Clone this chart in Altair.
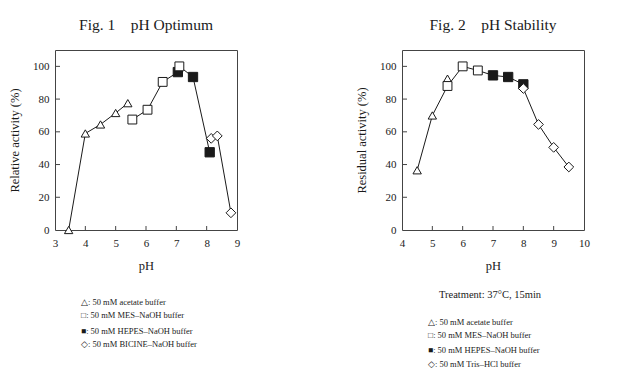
import altair as alt
import pandas as pd

FONT = "Liberation Serif"
INK = "#1a1a1a"
FRAME = "#444444"

# ---------------- Fig. 1 pH Optimum ----------------
f1_acetate_ph = [3.45, 4.0, 4.5, 5.0, 5.4]
f1_acetate_act = [0, 59, 64.5, 71.5, 77.5]
f1_mes_ph = [5.55, 6.05, 6.55, 7.1]
f1_mes_act = [67.5, 73.5, 90.5, 100]
f1_hepes_ph = [7.05, 7.55, 8.1]
f1_hepes_act = [96.5, 93.5, 47.5]
f1_bicine_ph = [8.15, 8.35, 8.8]
f1_bicine_act = [56, 57.5, 10.5]
f1_xticks = [3, 4, 5, 6, 7, 8, 9]
f1_legend = [
    "\u25b3: 50 mM acetate buffer",
    "\u25a1: 50 mM MES\u2013NaOH buffer",
    "\u25a0: 50 mM HEPES\u2013NaOH buffer",
    "\u25c7: 50 mM BICINE\u2013NaOH buffer",
]

# ---------------- Fig. 2 pH Stability ----------------
f2_acetate_ph = [4.5, 5.0, 5.5]
f2_acetate_act = [36.5, 70, 92.5]
f2_mes_ph = [5.5, 6.0, 6.5]
f2_mes_act = [88, 100, 97.5]
f2_hepes_ph = [7.0, 7.5, 8.0]
f2_hepes_act = [94.5, 93.5, 89]
f2_tris_ph = [8.0, 8.5, 9.0, 9.5]
f2_tris_act = [86.5, 64.5, 50.5, 38.5]
f2_xticks = [4, 5, 6, 7, 8, 9, 10]
f2_legend = [
    "\u25b3: 50 mM acetate buffer",
    "\u25a1: 50 mM MES\u2013NaOH buffer",
    "\u25a0: 50 mM HEPES\u2013NaOH buffer",
    "\u25c7: 50 mM Tris\u2013HCl buffer",
]
f2_note = "Treatment: 37\u00b0C, 15min"

y_ticks = [0, 20, 40, 60, 80, 100]
series_keys = ["acetate", "MES", "HEPES", "last"]


def build(groups, segs, skip):
    rows = []
    for key, (phs, acts), seg in zip(series_keys, groups, segs):
        for i, (p, a) in enumerate(zip(phs, acts)):
            s = -1 if (key, i) in skip else seg
            rows.append({"series": key, "ph": p, "act": a, "seg": s,
                         "sidx": series_keys.index(key)})
    df = pd.DataFrame(rows)
    df = df.sort_values(["seg", "ph", "sidx"]).reset_index(drop=True)
    df["ord"] = range(len(df))
    return df


df1 = build([(f1_acetate_ph, f1_acetate_act), (f1_mes_ph, f1_mes_act),
             (f1_hepes_ph, f1_hepes_act), (f1_bicine_ph, f1_bicine_act)],
            [0, 1, 1, 2], set())
df2 = build([(f2_acetate_ph, f2_acetate_act), (f2_mes_ph, f2_mes_act),
             (f2_hepes_ph, f2_hepes_act), (f2_tris_ph, f2_tris_act)],
            [0, 0, 0, 0], {("acetate", 2)})

W, H = 182, 180


def panel(df, xdom, xticks, ytitle, title, legend, legend_y, note=None):
    xs = alt.Scale(domain=xdom, nice=False, zero=False)
    ys = alt.Scale(domain=[0, 110], nice=False)
    x = alt.X("ph:Q", scale=xs, title="pH",
              axis=alt.Axis(values=xticks, ticks=False, domain=False, grid=False,
                            labelPadding=7, titlePadding=11, format="d",
                            labelFlush=False, labelOverlap=False))
    y = alt.Y("act:Q", scale=ys, title=ytitle,
              axis=alt.Axis(values=y_ticks, ticks=False, domain=False, grid=False,
                            labelPadding=6, titlePadding=11, labelOverlap=False))
    base = alt.Chart(df)
    line = base.transform_filter("datum.seg >= 0").mark_line(
        color=INK, strokeWidth=1).encode(x=x, y=y, detail="seg:N", order="ord:Q")
    pts = base.mark_point(filled=True, strokeWidth=1, opacity=1).encode(
        x=x, y=y,
        shape=alt.Shape("series:N", legend=None,
                        scale=alt.Scale(domain=series_keys,
                                        range=["triangle-up", "square", "square", "diamond"])),
        fill=alt.Fill("series:N", legend=None,
                      scale=alt.Scale(domain=series_keys,
                                      range=["white", "white", INK, "white"])),
        size=alt.Size("series:N", legend=None,
                      scale=alt.Scale(domain=series_keys, range=[70, 95, 95, 55])),
        stroke=alt.value(INK),
    )
    xt = alt.Chart(pd.DataFrame({"ph": xticks[1:-1]})).mark_rule(
        color=FRAME, strokeWidth=1).encode(
        x=x, y=alt.value(H), y2=alt.value(H - 4))
    yt = alt.Chart(pd.DataFrame({"act": y_ticks[1:]})).mark_rule(
        color=FRAME, strokeWidth=1).encode(
        y=y, x=alt.value(0), x2=alt.value(5))
    layers = [line, pts, xt, yt]
    for i, t in enumerate(legend):
        layers.append(
            alt.Chart(pd.DataFrame({"t": [t]})).mark_text(
                align="left", baseline="middle", font=FONT, fontSize=8.5,
                color=INK).encode(text="t:N", x=alt.value(26),
                                  y=alt.value(legend_y[i])))
    if note:
        layers.append(
            alt.Chart(pd.DataFrame({"t": [note]})).mark_text(
                align="center", baseline="middle", font=FONT, fontSize=10.5,
                color=INK).encode(text="t:N", x=alt.value(88), y=alt.value(245)))
    return alt.layer(*layers).properties(
        width=W, height=H,
        title=alt.TitleParams(title, offset=17))


left = panel(df1, [3, 9], f1_xticks, "Relative activity (%)",
             "Fig. 1\u2003pH Optimum", f1_legend, [252, 265, 281, 294])
right = panel(df2, [4, 10], f2_xticks, "Residual activity (%)",
              "Fig. 2\u2003pH Stability", f2_legend, [272, 285, 300, 314], f2_note)

chart = alt.hconcat(left, right, spacing=114).configure_view(
    stroke=FRAME, strokeWidth=1).configure_axis(
    labelFont=FONT, titleFont=FONT, labelFontSize=11, titleFontSize=12.5,
    titleFontWeight="normal", labelColor=INK, titleColor=INK).configure_title(
    font=FONT, fontSize=15.5, fontWeight="normal", color=INK).properties(
    background="white", padding={"top": 9, "left": 0, "right": 5, "bottom": 5})

chart.save("out.html", embed_options={"renderer": "svg", "actions": False})
